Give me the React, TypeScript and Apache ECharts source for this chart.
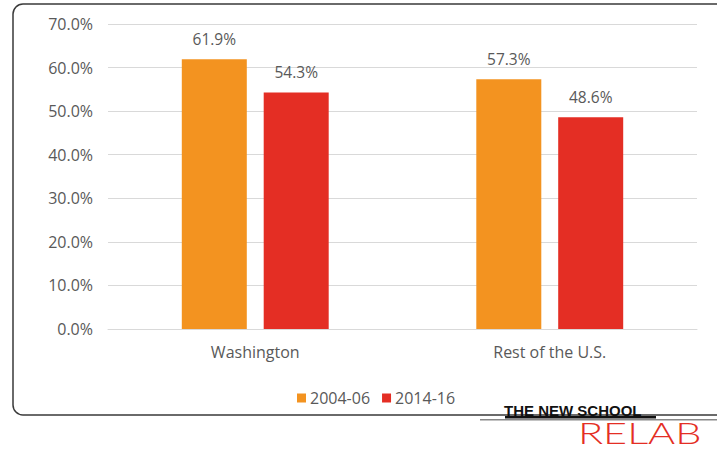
import React, { useEffect, useRef } from "react";
import * as echarts from "echarts";

const categories = ["Washington", "Rest of the U.S."];
const seriesNames = ["2004-06", "2014-16"];
const values2004 = [61.9, 57.3];
const values2014 = [54.3, 48.6];
const colors = ["#F39320", "#E42E24"];

const FONT = "'Open Sans', 'Noto Sans', sans-serif";
const TEXT = "#595959";

export default function App() {
  const ref = useRef<HTMLDivElement>(null);
  useEffect(() => {
    if (!ref.current) return;
    const chart = echarts.init(ref.current, null, { renderer: "svg" });
    const label = {
      show: true,
      position: "top",
      distance: 12,
      color: TEXT,
      fontSize: 15.5,
      fontFamily: FONT,
      formatter: (p: any) => p.value.toFixed(1) + "%",
    };
    chart.setOption({
      animation: false,
      backgroundColor: "#ffffff",
      textStyle: { fontFamily: FONT },
      grid: { left: 108, right: 20, top: 24, bottom: 124 },
      legend: {
        data: seriesNames,
        top: 385,
        left: 292,
        itemWidth: 9,
        itemHeight: 9,
        itemGap: 12,
        icon: "rect",
        textStyle: { color: TEXT, fontSize: 16, fontFamily: FONT, padding: [0, 0, 0, -1] },
      },
      xAxis: {
        type: "category",
        data: categories,
        axisTick: { show: false },
        axisLine: { lineStyle: { color: "#d9d9d9" } },
        axisLabel: { color: TEXT, fontSize: 16, margin: 15, fontFamily: FONT },
      },
      yAxis: {
        type: "value",
        min: 0,
        max: 70,
        interval: 10,
        axisLabel: {
          color: TEXT,
          fontSize: 16,
          margin: 15,
          fontFamily: FONT,
          formatter: (v: number) => v.toFixed(1) + "%",
        },
        splitLine: { lineStyle: { color: "#d9d9d9" } },
      },
      series: [
        {
          name: seriesNames[0],
          type: "bar",
          data: values2004,
          barWidth: 65,
          barGap: "26%",
          itemStyle: { color: colors[0] },
          label,
        },
        {
          name: seriesNames[1],
          type: "bar",
          data: values2014,
          barWidth: 65,
          itemStyle: { color: colors[1] },
          label,
        },
      ],
      graphic: [
        {
          type: "rect",
          shape: { x: 13, y: 4, width: 730, height: 411, r: 10 },
          style: { fill: "none", stroke: "#3a3a3a", lineWidth: 1.5 },
          silent: true,
        },
        {
          type: "rect",
          shape: { x: 480, y: 419, width: 237, height: 1.5 },
          style: { fill: "#888" },
          silent: true,
        },
        {
          type: "rect",
          shape: { x: 505, y: 416, width: 151, height: 2.5 },
          style: { fill: "#111" },
          silent: true,
        },
        {
          type: "text",
          x: 504,
          y: 403,
          style: {
            text: "THE NEW SCHOOL",
            fill: "#111",
            fontSize: 15,
            fontWeight: "bold",
            fontFamily: "'Liberation Sans', Arial, sans-serif",
          },
          silent: true,
        },
        {
          type: "text",
          x: 578,
          y: 417,
          scaleX: 1.38,
          style: {
            text: "RELAB",
            fill: "#E42E24",
            fontSize: 30,
            fontWeight: 300,
            fontFamily: "Lato, 'Open Sans', sans-serif",
          },
          silent: true,
        },
      ],
    });
    return () => chart.dispose();
  }, []);
  return (
    <div
      ref={ref}
      style={{ position: "fixed", left: 0, top: 0, width: 717, height: 453 }}
    />
  );
}
